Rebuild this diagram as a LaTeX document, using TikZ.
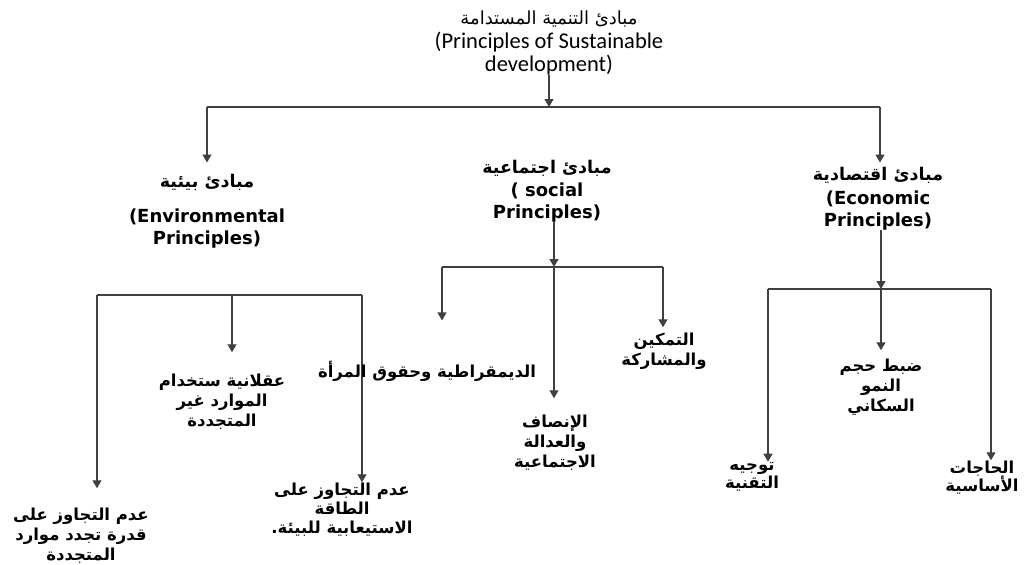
\documentclass[tikz,border=0pt]{standalone}
\usepackage{fontspec}
\setmainfont{DejaVu Sans}
\newfontfamily\titlefont{Carlito}
\newfontfamily\arabicfont[Script=Arabic]{DejaVu Sans}
\TeXXeTstate=1
\usetikzlibrary{arrows.meta,positioning}
\newcommand\ar[1]{{\arabicfont\beginR #1\endR}}
\newcommand\arhead[1]{{\arabicfont\fontsize{17.5}{17.5}\selectfont\beginR #1\endR}}

\tikzset{
  conn/.style={draw=black!75, line width=1.2pt},
  arr/.style={conn, -{Triangle[width=9pt,length=8pt]}},
  main/.style={align=center, anchor=base, inner sep=0pt,
    font=\bfseries\fontsize{18}{22}\selectfont},
  leaf/.style={align=center, anchor=base, inner sep=0pt,
    font=\bfseries\fontsize{16.5}{20}\selectfont},
}

\begin{document}
\begin{tikzpicture}[x=1pt, y=-1pt]
  \useasboundingbox (0,0) rectangle (1029,565);
  % title
  \node[anchor=base, align=center, inner sep=0pt,
    font=\titlefont\fontsize{22.5}{23}\selectfont] (title) at (549,71)
    {{\arabicfont\fontsize{18}{18}\selectfont\beginR مبادئ التنمية المستدامة\endR}\\[1pt]
     (Principles of Sustainable\\development)};
  \coordinate (top) at (549,107);
  \coordinate (topl) at (207,107);
  \coordinate (topr) at (880,107);

  % first level
  \node[main] (env) at (207,244) {\arhead{مبادئ  بيئية}\\[13pt](Environmental\\Principles)};
  \node[main] (soc) at (547,218) {\arhead{مبادئ اجتماعية}\\[1pt](  social\\Principles)};
  \node[main] (eco) at (878,226) {\arhead{مبادئ اقتصادية}\\[2pt](Economic\\Principles)};

  \draw[arr] (title) -- (top);
  \draw[conn] (topl) -- (topr);
  \draw[arr, shorten >=11pt] (topl) -- (env.north);
  \draw[arr, shorten >=4pt] (topr) -- (topr |- eco.north);

  % environmental branch
  \coordinate (nj) at (232,295);
  \coordinate (nl) at (97,295);
  \coordinate (nr) at (362,295);
  \node[leaf] (rational) at (222,426) {\ar{عقلانية ستخدام}\\\ar{الموارد غير}\\\ar{المتجددة}};
  \node[leaf] (limit) at (81,560) {\ar{عدم التجاوز على}\\\ar{قدرة تجدد  موارد}\\\ar{المتجددة}};
  \node[leaf] (absorb) at (342,533) {\ar{عدم التجاوز على}\\[-1pt]\ar{الطاقة}\\[-1pt]\ar{الاستيعابية  للبيئة.}};
  \draw[conn] (nl) -- (nr);
  \draw[arr, shorten >=21pt] (nj) -- (nj |- rational.north);
  \draw[arr, shorten >=19pt] (nl) -- (nl |- limit.north);
  \draw[arr] (nr) -- (nr |- absorb.north);

  % social branch
  \coordinate (sj) at (554,267);
  \coordinate (sl) at (442,267);
  \coordinate (sr) at (663,267);
  \node[leaf] (demo) at (427,377) {\ar{الديمقراطية وحقوق المرأة}};
  \node[leaf] (justice) at (555,467) {\ar{الإنصاف}\\\ar{والعدالة}\\\ar{الاجتماعية}};
  \node[leaf] (empower) at (664,365) {\ar{التمكين}\\\ar{والمشاركة}};
  \draw[arr] (soc.south -| sj) -- (sj);
  \draw[conn] (sl) -- (sr);
  \draw[arr, shorten >=40pt] (sl) -- (sl |- demo.north);
  \draw[arr, shorten >=16pt] (sj) -- (sj |- justice.north);
  \draw[arr, shorten >=5pt] (sr) -- (sr |- empower.north);

  % economic branch
  \coordinate (ej) at (881,289);
  \coordinate (el) at (768,289);
  \coordinate (er) at (991,289);
  \node[leaf] (ctrl) at (881,411) {\ar{ضبط حجم}\\\ar{النمو}\\\ar{السكاني}};
  \node[leaf] (tech) at (752,488) {\ar{توجيه}\\[-2pt]\ar{التقنية}};
  \node[leaf] (needs) at (982,491) {\ar{الحاجات}\\[-2pt]\ar{الأساسية}};
  \draw[arr] (eco.south -| ej) -- (ej);
  \draw[conn] (el) -- (er);
  \draw[arr, shorten >=8pt] (ej) -- (ctrl.north);
  \draw[arr] (el) -- (el |- tech.north);
  \draw[arr] (er) -- (er |- needs.north);
\end{tikzpicture}
\end{document}
